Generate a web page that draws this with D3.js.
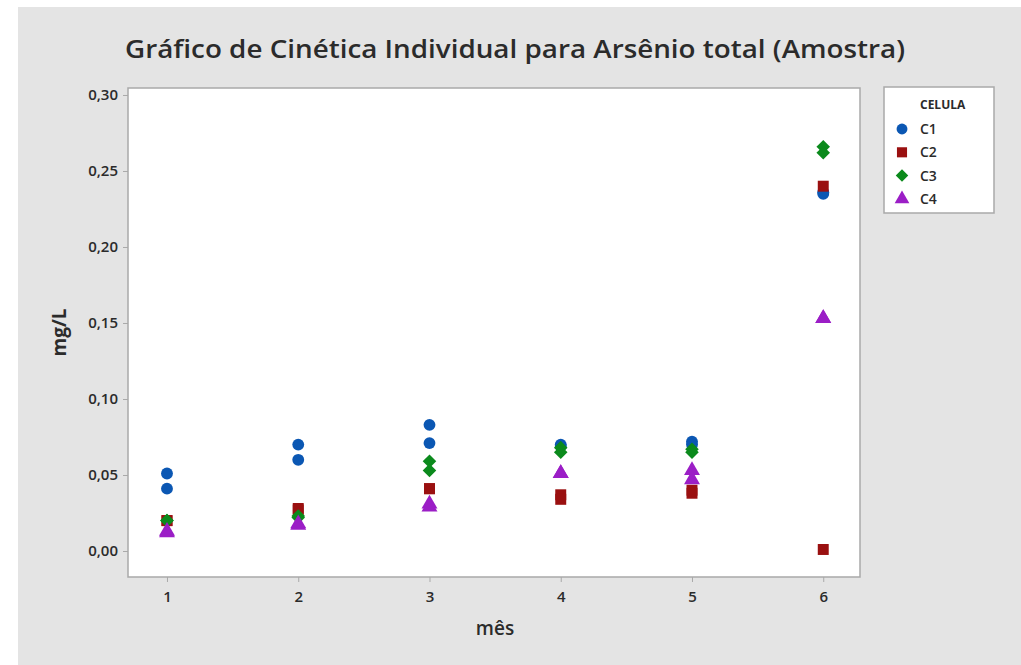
<!DOCTYPE html>
<html lang="pt">
<head>
<meta charset="UTF-8">
<title>Cinética Individual - Arsênio total</title>
<style>
  body { margin: 0; background: #fff; }
  text { font-family: "Open Sans", "Noto Sans", sans-serif; fill: #2b2b2b; }
</style>
</head>
<body>
<script src="https://cdn.jsdelivr.net/npm/d3@7"></script>
<script>
// months on x, two replicate readings per cell per month
const months = [1, 2, 3, 4, 5, 6];
const cells = ['C1', 'C2', 'C3', 'C4'];
const c1 = [[0.051, 0.041], [0.070, 0.060], [0.083, 0.071], [0.070, 0.069], [0.072, 0.070], [0.236, 0.235]];
const c2 = [[0.020, 0.020], [0.028, 0.027], [0.041, 0.041], [0.037, 0.034], [0.040, 0.038], [0.240, 0.001]];
const c3 = [[0.020, 0.020], [0.023, 0.022], [0.059, 0.053], [0.068, 0.065], [0.067, 0.065], [0.266, 0.262]];
const c4 = [[0.013, 0.012], [0.018, 0.017], [0.031, 0.029], [0.051, 0.051], [0.053, 0.047], [0.153, 0.153]];
const yTicks = [0, 0.05, 0.10, 0.15, 0.20, 0.25, 0.30];

const series = [c1, c2, c3, c4];
const colors = ['#0b57b3', '#9a1010', '#0b8a1c', '#9b1ec6'];
// diamond drawn as a square turned 45deg so it is as wide as tall
const symbols = [d3.symbolCircle, d3.symbolSquare, d3.symbolSquare, d3.symbolTriangle];
const rot = [0, 0, 45, 0];
const sizes = [110, 120, 92, 110];

const w = 1021, h = 665;
const plot = { left: 128, right: 860, top: 88, bottom: 577 };

const svg = d3.select('body').append('svg')
  .attr('width', w).attr('height', h);

// grey panel (white strip left and top like the screenshot)
svg.append('rect').attr('x', 18).attr('y', 7)
  .attr('width', w - 18).attr('height', h - 7).attr('fill', '#e4e4e4');

const x = d3.scaleLinear().domain([0.703, 6.28]).range([plot.left, plot.right]);
const y = d3.scaleLinear().domain([-0.0171, 0.3046]).range([plot.bottom, plot.top]);

svg.append('rect')
  .attr('x', plot.left).attr('y', plot.top)
  .attr('width', plot.right - plot.left).attr('height', plot.bottom - plot.top)
  .attr('fill', '#fff').attr('stroke', '#a9a9a9').attr('stroke-width', 1.5);

const fmt = d => d3.format('.2f')(d).replace('.', ',');

const yAxis = svg.append('g')
  .attr('transform', `translate(${plot.left},0)`)
  .call(d3.axisLeft(y).tickValues(yTicks).tickFormat(fmt).tickSize(5).tickPadding(5));
const xAxis = svg.append('g')
  .attr('transform', `translate(0,${plot.bottom})`)
  .call(d3.axisBottom(x).tickValues(months).tickFormat(d3.format('d')).tickSize(5).tickPadding(9));

[yAxis, xAxis].forEach(g => {
  g.select('.domain').remove();
  g.selectAll('line').attr('stroke', '#a9a9a9');
  g.selectAll('text').attr('font-size', 15).attr('font-weight', 600).attr('fill', '#333');
});

// points
series.forEach((s, i) => {
  const pts = [];
  s.forEach((pair, m) => pair.forEach(v => pts.push([months[m], v])));
  svg.append('g').selectAll('path')
    .data(pts).enter().append('path')
    .attr('d', d3.symbol().type(symbols[i]).size(sizes[i]))
    .attr('transform', d => `translate(${x(d[0])},${y(d[1])}) rotate(${rot[i]})`)
    .attr('fill', colors[i]);
});

// titles
svg.append('text').attr('x', 515).attr('y', 58).attr('text-anchor', 'middle')
  .attr('font-size', 26).attr('font-weight', 600).attr('fill', '#222')
  .attr('textLength', 780).attr('lengthAdjust', 'spacingAndGlyphs')
  .text('Gráfico de Cinética Individual para Arsênio total (Amostra)');
svg.append('text').attr('x', 495).attr('y', 635)
  .attr('text-anchor', 'middle').attr('font-size', 19).attr('font-weight', 600)
  .text('mês');
svg.append('text').attr('transform', `translate(66,${(plot.top + plot.bottom) / 2}) rotate(-90)`)
  .attr('text-anchor', 'middle').attr('font-size', 19).attr('font-weight', 700)
  .text('mg/L');

// legend
const lg = svg.append('g').attr('transform', 'translate(884,87)');
lg.append('rect').attr('width', 110).attr('height', 126)
  .attr('fill', '#fff').attr('stroke', '#a9a9a9').attr('stroke-width', 1.5);
lg.append('text').attr('x', 36).attr('y', 22).attr('font-size', 12).attr('font-weight', 700)
  .text('CELULA');
cells.forEach((c, i) => {
  const cy = 42 + i * 23.3;
  lg.append('path').attr('d', d3.symbol().type(symbols[i]).size(sizes[i] * 0.85))
    .attr('transform', `translate(18,${cy}) rotate(${rot[i]})`).attr('fill', colors[i]);
  lg.append('text').attr('x', 36).attr('y', cy + 5).attr('font-size', 14).attr('font-weight', 600)
    .text(c);
});
</script>
</body>
</html>
